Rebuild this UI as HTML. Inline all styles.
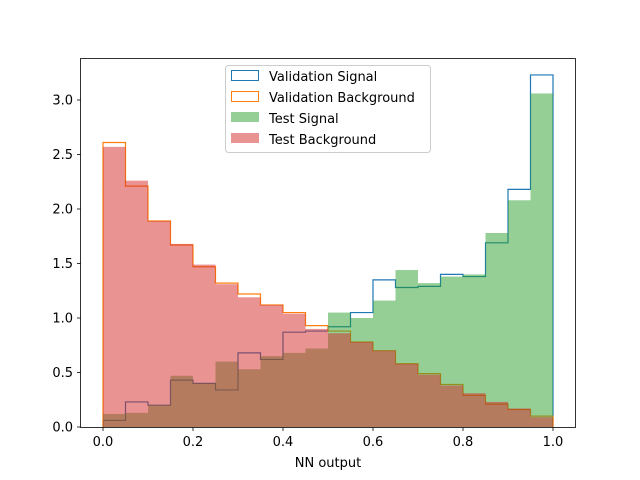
<!DOCTYPE html>
<html><head><meta charset="utf-8"><style>
body{margin:0;background:#fff;}
svg{display:block;font-family:"DejaVu Sans","Liberation Sans",sans-serif;}
</style></head><body>
<svg id="chart" width="640" height="480">
<rect width="640" height="480" fill="#fff"/>
<g id="marks"></g>
<rect x="80.5" y="58.5" width="495" height="369" fill="none" stroke="#000" stroke-width="0.8"/>
<g id="axes"></g>
<text x="328" y="467" font-size="13" text-anchor="middle">NN output</text>
<g>
<rect x="225.5" y="65.5" width="205" height="87" rx="3" fill="#fff" fill-opacity="0.8" stroke="#ccc"/>
<rect x="231.5" y="70.5" width="27" height="10" fill="none" stroke="#1f77b4"/>
<text x="269" y="81" font-size="13">Validation Signal</text>
<rect x="231.5" y="91.5" width="27" height="10" fill="none" stroke="#ff7f0e"/>
<text x="269" y="102" font-size="13">Validation Background</text>
<rect x="231" y="112" width="28" height="10" fill="#2ca02c" fill-opacity="0.5"/>
<text x="269" y="123" font-size="13">Test Signal</text>
<rect x="231" y="133" width="28" height="10" fill="#d62728" fill-opacity="0.5"/>
<text x="269" y="144" font-size="13">Test Background</text>
</g>
</svg>
<script>
const binEdges = [0,0.05,0.1,0.15,0.2,0.25,0.3,0.35,0.4,0.45,0.5,0.55,0.6,0.65,0.7,0.75,0.8,0.85,0.9,0.95,1.0];
const valSignal = [0.06,0.23,0.20,0.43,0.40,0.34,0.68,0.62,0.87,0.88,0.92,1.05,1.35,1.28,1.29,1.40,1.38,1.69,2.18,3.23];
const valBackground = [2.61,2.21,1.89,1.67,1.47,1.32,1.22,1.12,1.05,0.93,0.88,0.78,0.70,0.58,0.49,0.39,0.29,0.21,0.16,0.10];
const testSignal = [0.12,0.13,0.20,0.47,0.40,0.60,0.53,0.65,0.68,0.72,1.05,1.00,1.16,1.44,1.32,1.38,1.40,1.78,2.08,3.06];
const testBackground = [2.57,2.26,1.89,1.68,1.49,1.31,1.19,1.12,1.04,0.90,0.86,0.78,0.70,0.58,0.48,0.38,0.31,0.23,0.17,0.09];
const xTicks = [0.0,0.2,0.4,0.6,0.8,1.0];
const yTicks = [0.0,0.5,1.0,1.5,2.0,2.5,3.0];

const NS="http://www.w3.org/2000/svg";
const xS = v => 103 + v*450;
const yS = v => 427 - v*109;
const marks=document.getElementById('marks');
const axes=document.getElementById('axes');
function mk(tag,attrs,parent){const e=document.createElementNS(NS,tag);for(const k in attrs)e.setAttribute(k,attrs[k]);parent.appendChild(e);return e;}

function stepPath(vals){
  let d=`M${xS(binEdges[0])},${yS(0)}`;
  vals.forEach((v,i)=>{d+=` L${xS(binEdges[i])},${yS(v)} L${xS(binEdges[i+1])},${yS(v)}`;});
  d+=` L${xS(binEdges[binEdges.length-1])},${yS(0)}`;
  return d;
}
let p=mk('path',{d:stepPath(valSignal),fill:'none',stroke:'#1f77b4','stroke-width':1.2},marks);


p=mk('path',{d:stepPath(valBackground),fill:'none',stroke:'#ff7f0e','stroke-width':1.2},marks);


function bars(vals,color,name){
  vals.forEach((v,i)=>{
    const x0=xS(binEdges[i]),x1=xS(binEdges[i+1]);
    const r=mk('rect',{x:x0,y:yS(v),width:x1-x0,height:yS(0)-yS(v),fill:color,'fill-opacity':0.5},marks);
    
    
  });
}
bars(testSignal,'#2ca02c','test-signal');
bars(testBackground,'#d62728','test-background');

xTicks.forEach(t=>{
  const x=xS(t);
  mk('line',{x1:x,x2:x,y1:427.5,y2:431,stroke:'#000','stroke-width':0.8},axes);
  const tx=mk('text',{x:x,y:446,'font-size':13,'text-anchor':'middle'},axes);
  tx.textContent=t.toFixed(1);
  
  
});
yTicks.forEach(t=>{
  const y=yS(t);
  mk('line',{x1:77,x2:80.5,y1:y,y2:y,stroke:'#000','stroke-width':0.8},axes);
  const tx=mk('text',{x:73,y:y+4.5,'font-size':13,'text-anchor':'end'},axes);
  tx.textContent=t.toFixed(1);
  
  
});
</script>
</body></html>
